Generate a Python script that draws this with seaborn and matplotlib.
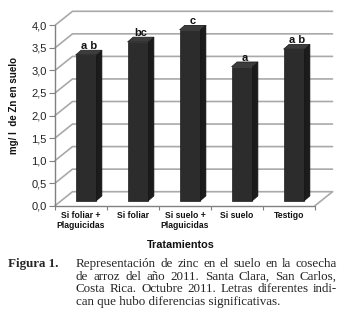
import numpy as np
import pandas as pd
import matplotlib
matplotlib.use("Agg")
import matplotlib.pyplot as plt
import seaborn as sns
from matplotlib.patches import Polygon

# datos
tratamientos = ["Si foliar +\nPlaguicidas", "Si foliar", "Si suelo +\nPlaguicidas", "Si suelo", "Testigo"]
zinc = [3.23, 3.52, 3.79, 2.97, 3.36]
letras = ["a b", "bc", "c", "a", "a b"]
yticks = [0.0, 0.5, 1.0, 1.5, 2.0, 2.5, 3.0, 3.5, 4.0]
caption_lines = [
    "Representación de zinc en el suelo en la cosecha",
    "de arroz del año 2011. Santa Clara, San Carlos,",
    "Costa Rica. Octubre 2011. Letras diferentes indi-",
    "can que hubo diferencias significativas.",
]

df = pd.DataFrame({"trat": tratamientos, "zn": zinc})

sns.set_style("white")
plt.rcParams["font.family"] = ["Liberation Sans", "DejaVu Sans"]

W, H = 341, 319
fig = plt.figure(figsize=(W / 100, H / 100), dpi=100)
ax = fig.add_axes([55 / W, 113.3 / H, 260 / W, 180.4 / H])

sns.barplot(data=df, x="trat", y="zn", color="#2c2c2c", saturation=1,
            width=0.4, ax=ax, zorder=3)
ax.set_xlim(-0.5, 4.5)
ax.set_ylim(0, 4)

# pixel -> data
px_x = 260 / 5
px_y = 180.4 / 4
depth = (17.5 / px_x, 14 / px_y)       # profundidad de las paredes
shift = (5 / px_x, 5 / px_y)           # posicion de las barras en profundidad
side = (5.5 / px_x, 4.8 / px_y)        # grosor de las barras

grid_c = "#a9a9a9"
axis_c = "#808080"
# lineas de la pared izquierda y del fondo
for v in yticks:
    ax.plot([-0.5, -0.5 + depth[0], 4.5 + depth[0]], [v, v + depth[1], v + depth[1]],
            color=grid_c, lw=1.2, clip_on=False, zorder=1)
# piso
ax.plot([4.5, 4.5 + depth[0]], [0, depth[1]], color=grid_c, lw=1.2, clip_on=False, zorder=1)
ax.plot([-0.5, 4.5], [0, 0], color=axis_c, lw=1.0, clip_on=False, zorder=2)
ax.plot([-0.5, -0.5], [0, 4], color=axis_c, lw=1.0, clip_on=False, zorder=2)

for p, letra in zip(ax.patches, letras):
    p.set_x(p.get_x() + shift[0])
    p.set_y(shift[1])
    p.set_edgecolor("#1c1c1c")
    p.set_linewidth(0.5)
    x0, y0, w, h = p.get_x(), p.get_y(), p.get_width(), p.get_height()
    lado = Polygon([(x0 + w, y0), (x0 + w + side[0], y0 + side[1]),
                    (x0 + w + side[0], y0 + h + side[1]), (x0 + w, y0 + h)],
                   closed=True, facecolor="#1b1b1b", edgecolor="#111111", lw=0.5, zorder=3)
    tapa = Polygon([(x0, y0 + h), (x0 + w, y0 + h), (x0 + w + side[0], y0 + h + side[1]),
                    (x0 + side[0], y0 + h + side[1])],
                   closed=True, facecolor="#3c3c3c", edgecolor="#1c1c1c", lw=0.5, zorder=3)
    ax.add_patch(lado)
    ax.add_patch(tapa)
    ax.text(x0 + w / 2 + side[0] / 2, y0 + h + side[1] + 0.03, letra,
            ha="center", va="baseline", fontsize=8, fontweight="bold", color="#111111",
            zorder=5)

for s in ax.spines.values():
    s.set_visible(False)

ax.set_yticks(yticks)
ax.set_yticklabels([f"{v:.1f}".replace(".", ",") for v in yticks], fontsize=8, color="#222222")
ax.tick_params(axis="y", length=4, width=0.8, color=axis_c, pad=2, left=True)
ax.set_xticks(range(len(tratamientos)))
ax.set_xticklabels(tratamientos, fontsize=6.2, fontweight="bold", color="#111111",
                   linespacing=1.05)
ax.tick_params(axis="x", length=0, pad=4)
ax.set_xticks([-0.5, 0.5, 1.5, 2.5, 3.5, 4.5], minor=True)
ax.tick_params(axis="x", which="minor", length=3, width=0.8, color=axis_c, bottom=True)

ax.set_xlabel("")
ax.set_ylabel("")
fig.text(14 / W, 1 - 105 / H, "mg/ l  de Zn en suelo", rotation=90, ha="center", va="center",
         fontsize=7, fontweight="bold", color="#111111")
fig.text(181 / W, 1 - 245 / H, "Tratamientos", ha="center", va="center",
         fontsize=7.8, fontweight="bold", color="#111111")

# pie de figura (texto justificado)
cap_fs = 9.4
fig.text(8 / W, 1 - 264 / H, "Figura 1.", ha="left", va="center", fontsize=cap_fs,
         fontweight="bold", family="Liberation Serif")
renderer = fig.canvas.get_renderer()
left_px, right_px = 76, 337
for i, linea in enumerate(caption_lines):
    y = 1 - (264 + 12.6 * i) / H
    words = linea.split(" ")
    if i == len(caption_lines) - 1:
        fig.text(left_px / W, y, linea, ha="left", va="center", fontsize=cap_fs,
                 family="Liberation Serif")
        continue
    objs = [fig.text(0, y, wd, ha="left", va="center", fontsize=cap_fs,
                     family="Liberation Serif") for wd in words]
    widths = [t.get_window_extent(renderer).width for t in objs]
    gap = (right_px - left_px - sum(widths)) / (len(words) - 1)
    x = left_px
    for t, wdt in zip(objs, widths):
        t.set_x(x / W)
        x += wdt + gap

fig.savefig("out.png", dpi=100, facecolor="white")
